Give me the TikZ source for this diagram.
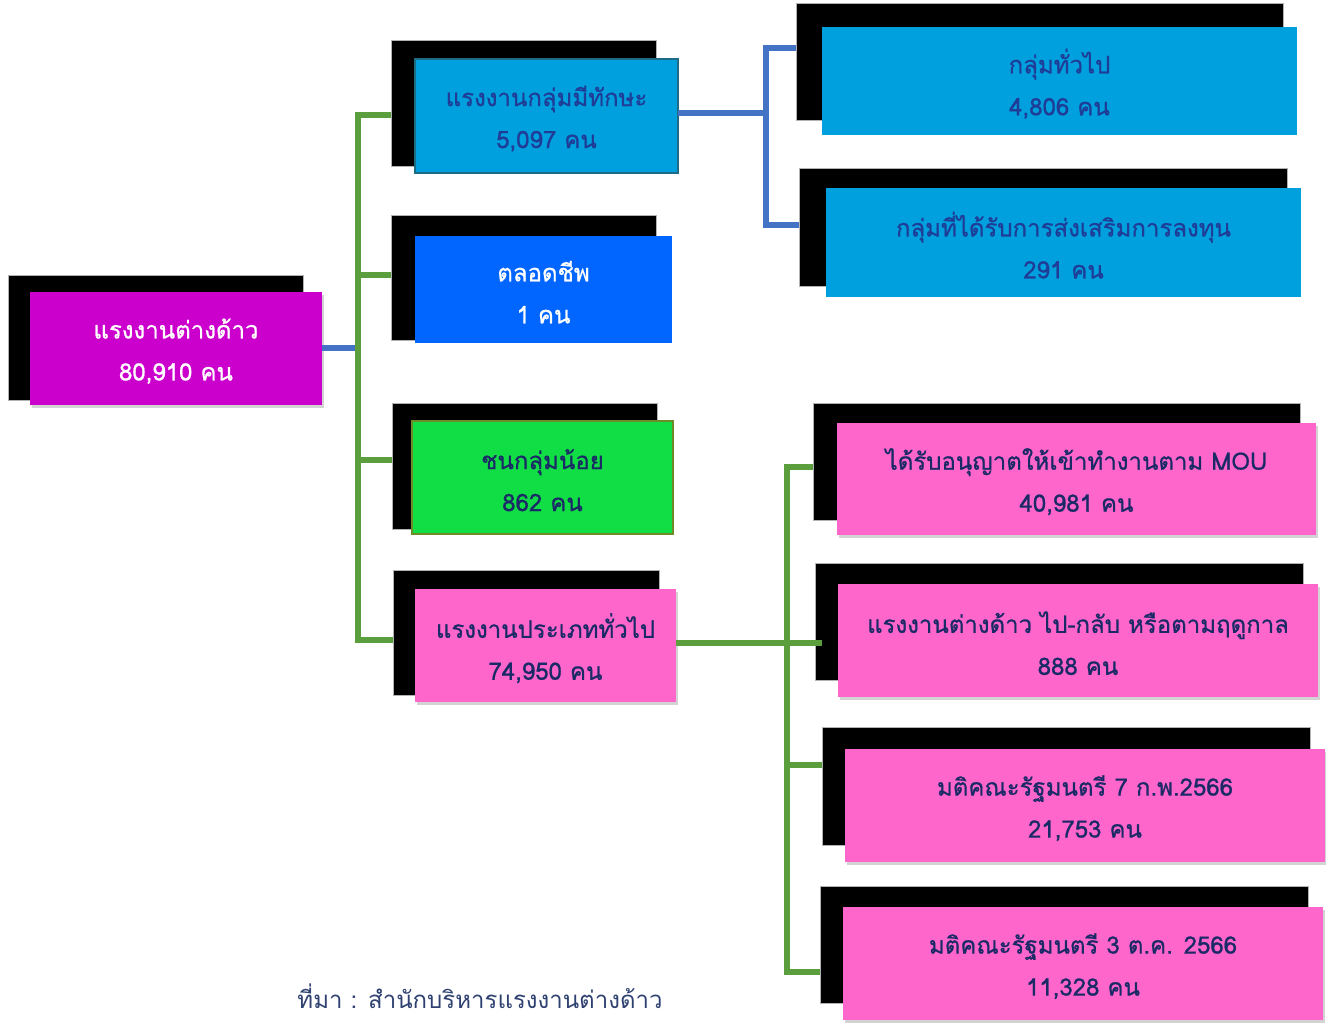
\documentclass[tikz,border=0pt]{standalone}
\usepackage{fontspec}
\newfontfamily\thai[Script=Thai,FakeBold=0.8]{Loma}
\newfontfamily\thaireg[Script=Thai]{Loma}
\usetikzlibrary{shadows}
\definecolor{magbox}{HTML}{CC00CC}
\definecolor{skyb}{HTML}{00A0DF}
\definecolor{royb}{HTML}{0066FF}
\definecolor{grnb}{HTML}{11DD44}
\definecolor{pnkb}{HTML}{FF66CC}
\definecolor{tblue}{HTML}{1F3C96}
\definecolor{tnavy}{HTML}{1A2A66}
\definecolor{gline}{HTML}{5A9E3D}
\definecolor{bline}{HTML}{4472C4}
\definecolor{srcc}{HTML}{2E4170}
\definecolor{tealb}{HTML}{1E6B85}
\definecolor{oliveb}{HTML}{6E8B2A}
\tikzset{
  basebox/.style={inner sep=0pt, outer sep=0pt},
  txt/.style={inner sep=0pt, outer sep=0pt, align=center, font=\thai\fontsize{18}{31.5}\selectfont},
  shadbox/.style={basebox, fill=black, draw=gray!60, line width=0.4pt},
  magstyle/.style={basebox, fill=magbox, drop shadow={opacity=0.35, shadow xshift=1.5pt, shadow yshift=-2.5pt}},
  skystyle/.style={basebox, fill=skyb},
  roystyle/.style={basebox, fill=royb},
  grnstyle/.style={basebox, fill=grnb, draw=oliveb, line width=1.2pt},
  pnkstyle/.style={basebox, fill=pnkb, drop shadow={opacity=0.35, shadow xshift=1.5pt, shadow yshift=-2.5pt}},
  gconn/.style={draw=gline, line width=4.5pt},
  bconn/.style={draw=bline, line width=4.5pt},
}
% name, box style, x1,y1,x2,y2 ; text placed by \mktext
\newcommand{\mkbox}[6]{%
  \node[#2, minimum width={(#5-#3)*0.75pt}, minimum height={(#6-#4)*0.75pt}] (#1) at ({(#3+#5)/2},{(#4+#6)/2}) {};}
\newcommand{\mktext}[3]{% box name, colour, text
  \node[txt, text=#2, yshift=-2pt] (#1t) at (#1.center) {#3};}
\begin{document}
\begin{tikzpicture}[x=0.75pt,y=-0.75pt]
\useasboundingbox (0,0) rectangle (1326,1023);
% root
\mkbox{rootS}{shadbox}{8}{275}{303}{400}
\mkbox{root}{magstyle}{30}{292}{322}{405}
\mktext{root}{white}{แรงงานต่างด้าว\\80,910 คน}
% level 1
\mkbox{skillS}{shadbox}{391}{40}{656}{166}
\mkbox{skill}{skystyle,draw=tealb,line width=1.2pt}{415}{59}{678}{173}
\mktext{skill}{tblue}{แรงงานกลุ่มมีทักษะ\\5,097 คน}
\mkbox{lifeS}{shadbox}{391}{215}{656}{340}
\mkbox{life}{roystyle}{415}{236}{672}{343}
\mktext{life}{white}{ตลอดชีพ\\1 คน}
\mkbox{minorS}{shadbox}{392}{403}{657}{529}
\mkbox{minor}{grnstyle}{412}{421}{673}{534}
\mktext{minor}{tnavy}{ชนกลุ่มน้อย\\862 คน}
\mkbox{genS}{shadbox}{393}{570}{659}{695}
\mkbox{gen}{pnkstyle}{415}{589}{676}{702}
\mktext{gen}{tnavy}{แรงงานประเภททั่วไป\\74,950 คน}
% level 2 skilled
\mkbox{allS}{shadbox}{796}{3}{1283}{120}
\mkbox{all}{skystyle}{822}{27}{1297}{135}
\mktext{all}{tblue}{กลุ่มทั่วไป\\4,806 คน}
\mkbox{invS}{shadbox}{799}{168}{1287}{286}
\mkbox{inv}{skystyle}{826}{188}{1301}{297}
\mktext{inv}{tblue}{กลุ่มที่ได้รับการส่งเสริมการลงทุน\\291 คน}
% level 2 general
\mkbox{mouS}{shadbox}{813}{403}{1300}{520}
\mkbox{mou}{pnkstyle}{837}{423}{1316}{535}
\mktext{mou}{tnavy}{ได้รับอนุญาตให้เข้าทำงานตาม MOU\\40,981 คน}
\mkbox{seaS}{shadbox}{815}{563}{1303}{680}
\mkbox{sea}{pnkstyle}{838}{584}{1318}{697}
\mktext{sea}{tnavy}{แรงงานต่างด้าว ไป-กลับ หรือตามฤดูกาล\\888 คน}
\mkbox{febS}{shadbox}{822}{727}{1310}{845}
\mkbox{feb}{pnkstyle}{845}{749}{1325}{862}
\mktext{feb}{tnavy}{มติคณะรัฐมนตรี 7 ก.พ.2566\\21,753 คน}
\mkbox{octS}{shadbox}{820}{886}{1308}{1003}
\mkbox{oct}{pnkstyle}{843}{907}{1323}{1020}
\mktext{oct}{tnavy}{มติคณะรัฐมนตรี 3 ต.ค. 2566\\11,328 คน}
% left bus
\coordinate (lb0) at (358,348);
\coordinate (lb1) at (358,115);
\coordinate (lb2) at (358,275);
\coordinate (lb3) at (358,460);
\coordinate (lb4) at (358,640);
\draw[bconn] (root.east |- lb0) -- (lb0);
\draw[gconn] ([yshift=2.25pt]lb1) -- ([yshift=-2.25pt]lb4);
\draw[gconn] (lb1) -- (skillS.west |- lb1);
\draw[gconn] (lb2) -- (lifeS.west |- lb2);
\draw[gconn] (lb3) -- (minorS.west |- lb3);
\draw[gconn] (lb4) -- (genS.west |- lb4);
% skilled bus
\coordinate (sb0) at (766,113);
\coordinate (sb1) at (766,48);
\coordinate (sb2) at (766,225);
\draw[bconn] (skill.east |- sb0) -- (sb0);
\draw[bconn] ([yshift=2.25pt]sb1) -- ([yshift=-2.25pt]sb2);
\draw[bconn] (sb1) -- (allS.west |- sb1);
\draw[bconn] (sb2) -- (invS.west |- sb2);
% general bus
\coordinate (gb0) at (787,643);
\coordinate (gb1) at (787,467);
\coordinate (gb3) at (787,765);
\coordinate (gb4) at (787,972);
\draw[gconn] ([yshift=2.25pt]gb1) -- ([yshift=-2.25pt]gb4);
\draw[gconn] (gen.east |- gb0) -- (822,643);
\draw[gconn] (gb1) -- (mouS.west |- gb1);
\draw[gconn] (gb3) -- (febS.west |- gb3);
\draw[gconn] (gb4) -- (octS.west |- gb4);
% source
\node[font=\thaireg\fontsize{18}{20}\selectfont, text=srcc] (src) at (480,996) {ที่มา : สำนักบริหารแรงงานต่างด้าว};
\end{tikzpicture}
\end{document}
